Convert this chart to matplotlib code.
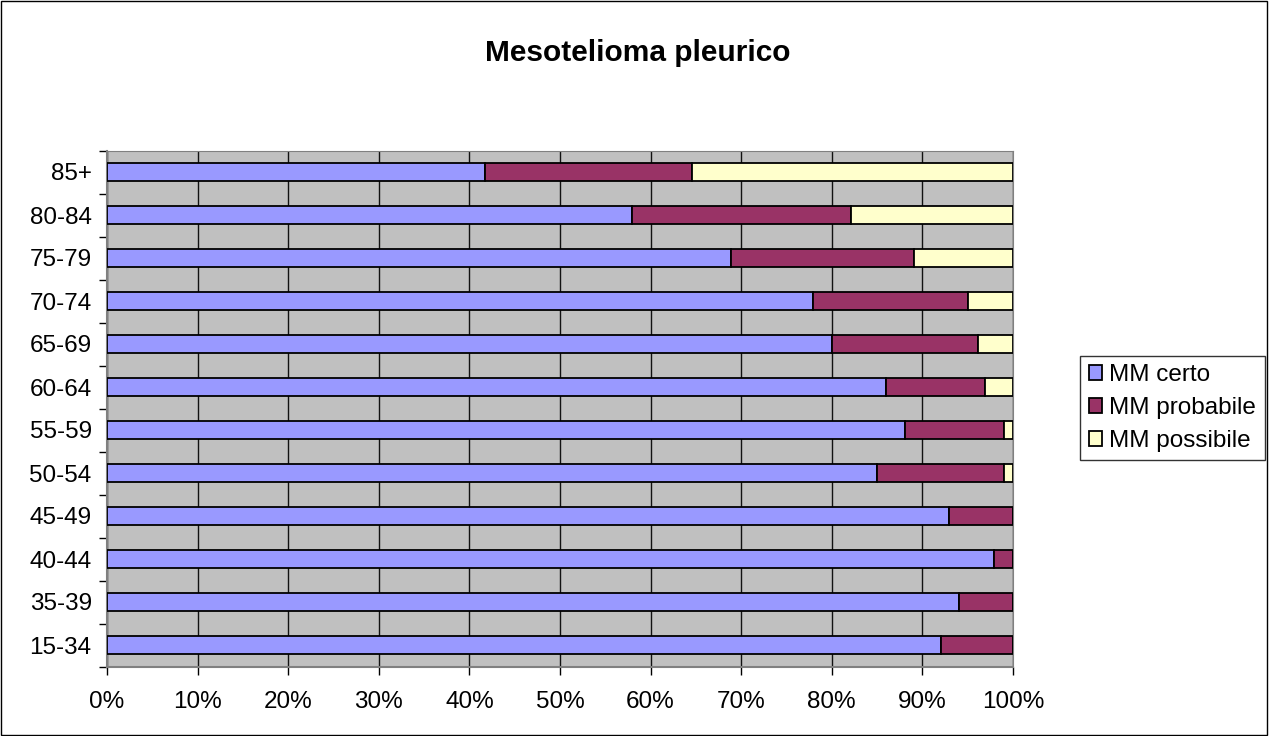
import numpy as np
import matplotlib.pyplot as plt
from matplotlib.patches import Rectangle

plt.rcParams['font.family'] = ['Liberation Sans', 'DejaVu Sans']

# Data (percent)
age_groups = ['15-34', '35-39', '40-44', '45-49', '50-54', '55-59',
              '60-64', '65-69', '70-74', '75-79', '80-84', '85+']
mm_certo = [92.0, 94.0, 97.9, 92.9, 85.0, 88.1, 86.0, 80.0, 77.9, 68.9, 57.9, 41.7]
mm_probabile = [8.0, 6.0, 2.1, 7.1, 14.0, 10.9, 10.9, 16.1, 17.1, 20.2, 24.2, 22.9]
mm_possibile = [0.0, 0.0, 0.0, 0.0, 1.0, 1.0, 3.1, 3.9, 5.0, 10.9, 17.9, 35.4]

fig = plt.figure(figsize=(12.7, 7.36), dpi=100)
fig.patches.append(Rectangle((0.001, 0.001), 0.997, 0.997, transform=fig.transFigure,
                             fill=False, edgecolor='black', linewidth=1))
ax = fig.add_axes([107 / 1270, 1 - 666.5 / 736, 906 / 1270, 516 / 736])
ax.set_facecolor('#C0C0C0')

y = np.arange(len(age_groups))
h = 0.4
certo = np.array(mm_certo)
prob = np.array(mm_probabile)
poss = np.array(mm_possibile)
ax.barh(y, certo, height=h, color='#9999FF', edgecolor='black', linewidth=1.3,
        label='MM certo', zorder=3)
ax.barh(y, prob, left=certo, height=h, color='#993366', edgecolor='black',
        linewidth=1.3, label='MM probabile', zorder=3)
ax.barh(y, poss, left=certo + prob, height=h, color='#FFFFCC', edgecolor='black',
        linewidth=1.3, label='MM possibile', zorder=3)

ax.set_xlim(0, 100)
ax.set_ylim(-0.5, len(age_groups) - 0.5)
ax.set_xticks(np.arange(0, 101, 10))
ax.set_xticklabels([f'{v}%' for v in range(0, 101, 10)], fontsize=17.5)
ax.set_yticks(y)
ax.set_yticklabels(age_groups, fontsize=17.5)
ax.set_yticks(np.arange(-0.5, len(age_groups), 1), minor=True)
ax.tick_params(axis='y', which='major', length=0, pad=11)
ax.tick_params(axis='y', which='minor', length=6, width=1, direction='out')
ax.tick_params(axis='x', length=6, width=1, direction='out', pad=12)
ax.xaxis.grid(True, color='#111111', linewidth=1, zorder=0)
ax.set_axisbelow(True)
for side in ['top', 'right']:
    ax.spines[side].set_color('#808080')
for side in ['left', 'bottom']:
    ax.spines[side].set_color('#808080')
    ax.spines[side].set_linewidth(1.5)

fig.text(638 / 1270, 1 - 53 / 736, 'Mesotelioma pleurico', ha='center', va='center',
         fontsize=21.5, fontweight='bold')

leg = fig.legend(loc='center left', bbox_to_anchor=(1080 / 1270, 1 - 408 / 736),
                 fontsize=17.5, frameon=True, fancybox=False, edgecolor='black',
                 handlelength=0.55, handleheight=0.55, handletextpad=0.3,
                 labelspacing=0.45, borderpad=0.35, borderaxespad=0)
leg.get_frame().set_linewidth(1)

fig.savefig('out.png', dpi=100)
